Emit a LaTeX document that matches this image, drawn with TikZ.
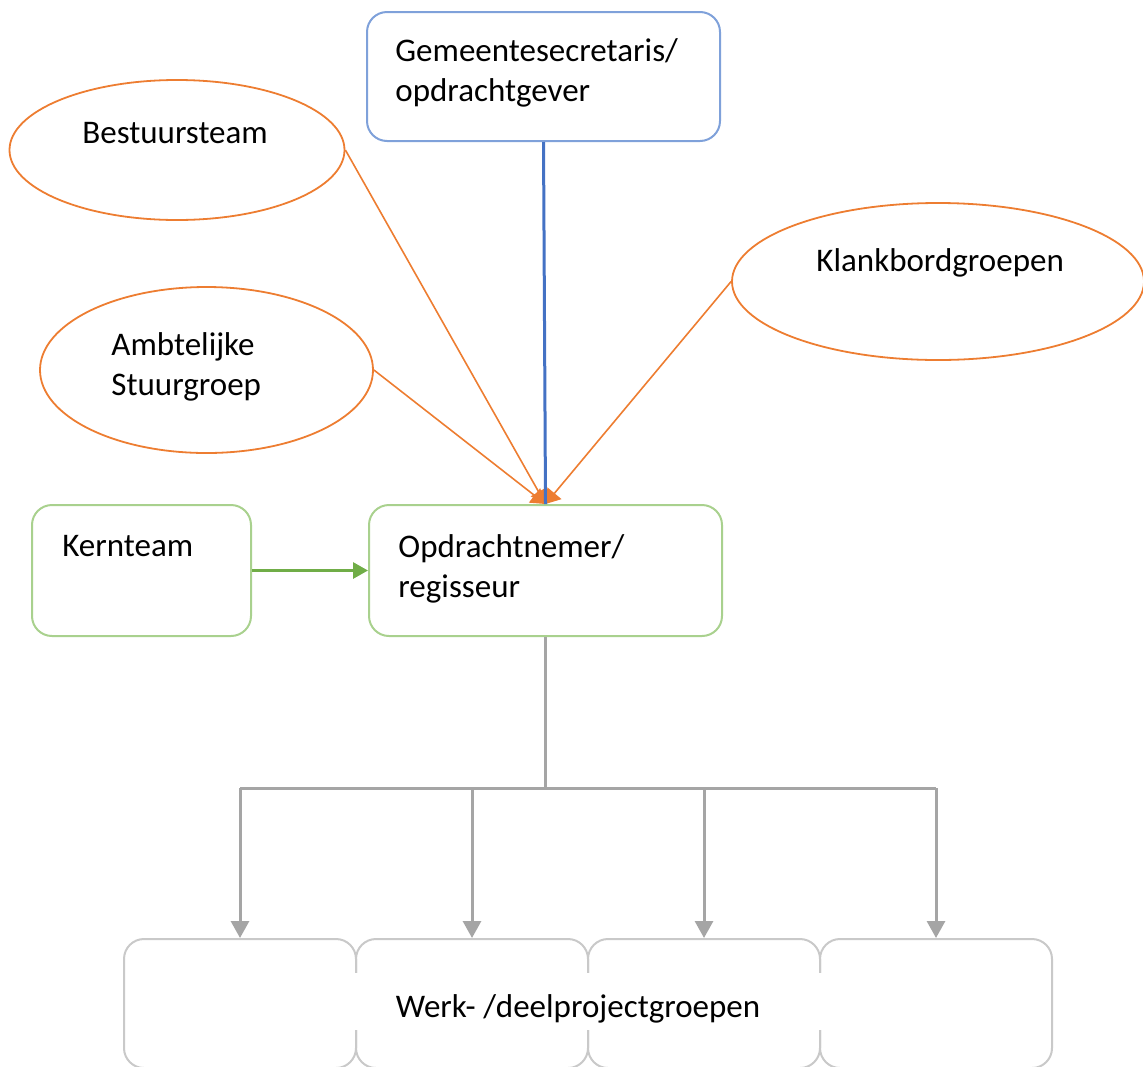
\documentclass[tikz,border=0pt]{standalone}
\usepackage{fontspec}
\setmainfont{Carlito}
\usetikzlibrary{arrows.meta,shapes.geometric}
\definecolor{orng}{HTML}{ED7D31}
\definecolor{bline}{HTML}{4472C4}
\definecolor{lblue}{HTML}{7FA1DA}
\definecolor{gline}{HTML}{70AD47}
\definecolor{lgreen}{HTML}{A9D18E}
\definecolor{gray1}{HTML}{A5A5A5}
\definecolor{lgray}{HTML}{C9C9C9}
\begin{document}
\begin{tikzpicture}
  [x=0.5pt,y=-0.5pt,font=\fontsize{16.5}{19.75}\selectfont,
   box/.style={draw,rounded corners=10pt,line width=1pt,inner sep=0pt},
   oval/.style={ellipse,draw=orng,line width=0.9pt,inner sep=0pt},
   txt/.style={anchor=base west,inner sep=0pt,align=left},
   grayline/.style={gray1,line width=1.5pt}]
  \useasboundingbox (0,0) rectangle (1143,1066);
  \node[box,draw=lblue,minimum width=176.5pt,minimum height=64.5pt] (gs) at (543.5,76.5) {};
  \node[oval,minimum width=167.5pt,minimum height=70pt] (bt) at (177,150) {};
  \node[oval,minimum width=166.5pt,minimum height=83pt] (as) at (206.5,370) {};
  \node[oval,minimum width=206pt,minimum height=78.5pt] (kb) at (938,281.5) {};
  \node[box,draw=lgreen,minimum width=109.5pt,minimum height=65.5pt] (kt) at (141.5,570.5) {};
  \node[box,draw=lgreen,minimum width=176.5pt,minimum height=65.5pt] (on) at (545.5,570.5) {};
  \foreach \i/\x in {1/240,2/472,3/704,4/936}
    \node[box,draw=lgray,minimum width=116pt,minimum height=64.5pt] (w\i) at (\x,1003.5) {};

  % base anchor of a two-line node sits on its last line
  \node[txt] (gs-t) at (395,101) {Gemeentesecretaris/\\opdrachtgever};
  \node[txt] (bt-t) at (82,143) {Bestuursteam};
  \node[txt] (as-t) at (111,395) {Ambtelijke\\Stuurgroep};
  \node[txt] (kb-t) at (816,271) {Klankbordgroepen};
  \node[txt] (kt-t) at (62,556) {Kernteam};
  \node[txt] (on-t) at (398,597) {Opdrachtnemer/\\regisseur};
  \node[fill=white,inner sep=0pt,anchor=base,text height=22pt,text depth=6.5pt,
    minimum width=245pt] (w-t) at (578,1017) {Werk- /deelprojectgroepen};

  \draw[orng,line width=0.8pt,-{Triangle[width=9pt,length=7pt]}] (bt.east) -- (on.north);
  \draw[orng,line width=0.8pt,-{Triangle[width=9pt,length=7pt]}] (as.east) -- (on.north);
  \draw[orng,line width=0.8pt,-{Triangle[width=9pt,length=7pt]}] (kb.west) -- (on.north);
  \draw[bline,line width=1.5pt] (gs.south) -- (on.north);
  \draw[gline,line width=1.5pt,-{Triangle[width=8pt,length=7.5pt]}] (kt) -- (on);

  \coordinate (split) at (545.5,788);
  \draw[grayline] (on.south) -- (split);
  \draw[grayline] (w1.north |- split) -- (w4.north |- split);
  \foreach \i in {1,...,4}
    \draw[grayline,-{Triangle[width=9pt,length=8.5pt]}] (w\i.north |- split) -- (w\i.north);

\end{tikzpicture}
\end{document}
